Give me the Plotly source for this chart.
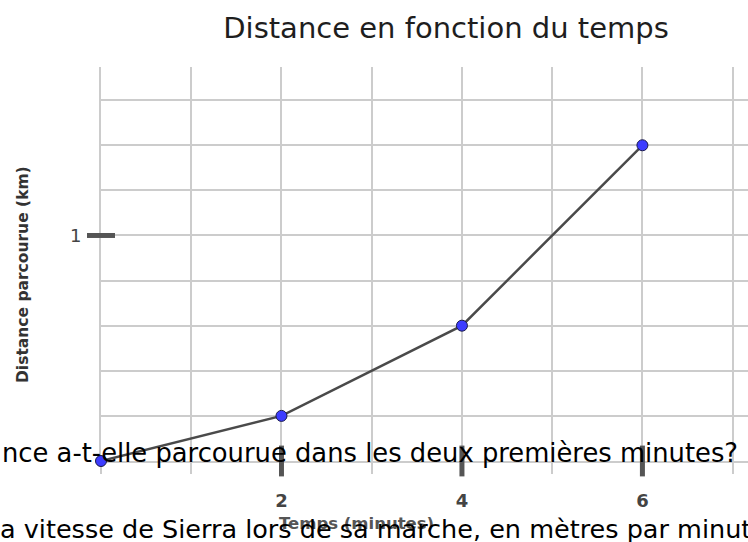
import plotly.graph_objects as go

# ---- data ----
temps_min = [0, 2, 4, 6]
distance_km = [0, 0.2, 0.6, 1.4]

x_tick_vals = [0, 1, 2, 3, 4, 5, 6, 7]
x_tick_text = ["", "", "2", "", "4", "", "6", ""]
x_major_ticks = [2, 4, 6]
y_tick_vals = [0, 0.2, 0.4, 0.6, 0.8, 1.0, 1.2, 1.4, 1.6]
y_tick_text = ["", "", "", "", "", "1", "", "", ""]
y_major_ticks = [1]

title_text = "Distance en fonction du temps"
x_title = "Temps (minutes)"
y_title = "Distance parcourue (km)"
doc_line1 = "nce a-t-elle parcourue dans les deux premières minutes?"
doc_line2 = "a vitesse de Sierra lors de sa marche, en mètres par minute"

W, H = 748, 542
ML, MR, MT, MB = 101, 0, 67, 81

fig = go.Figure()

# thick tick marks on axes
fig.add_trace(go.Scatter(
    x=x_major_ticks, y=[0] * len(x_major_ticks), mode="markers",
    marker=dict(symbol="line-ns", size=22, line=dict(color="#555555", width=5)),
    cliponaxis=False, hoverinfo="skip", showlegend=False))
fig.add_trace(go.Scatter(
    x=[0] * len(y_major_ticks), y=y_major_ticks, mode="markers",
    marker=dict(symbol="line-ew", size=20, line=dict(color="#555555", width=5)),
    cliponaxis=False, hoverinfo="skip", showlegend=False))

# data
fig.add_trace(go.Scatter(
    x=temps_min, y=distance_km, mode="lines+markers",
    line=dict(color="#4a4a4a", width=2.5),
    marker=dict(size=11, color="#3c3cff", line=dict(color="#1a1a4a", width=1)),
    cliponaxis=False, showlegend=False))

fig.update_xaxes(
    range=[0, 7.17], tickvals=x_tick_vals, ticktext=x_tick_text,
    showgrid=True, gridcolor="#cccccc", gridwidth=2,
    ticks="outside", ticklen=11, tickcolor="#cccccc", tickwidth=2,
    ticklabelstandoff=11, layer="below traces",
    showline=True, linecolor="#cccccc", linewidth=2,
    zeroline=False, automargin=False,
    tickfont=dict(family="DejaVu Sans", size=18, color="#444444", weight="bold"))
fig.update_yaxes(
    range=[0, 1.747], tickvals=y_tick_vals, ticktext=y_tick_text,
    showgrid=True, gridcolor="#cccccc", gridwidth=2,
    ticks="", ticklabelstandoff=14, layer="below traces",
    showline=True, linecolor="#cccccc", linewidth=2,
    zeroline=False, automargin=False,
    tickfont=dict(family="DejaVu Sans", size=18, color="#444444"))

def px_x(p):
    return (p - ML) / (W - ML - MR)

def px_y(p):
    return (H - MB - p) / (H - MT - MB)

annotations = [
    dict(text=y_title, x=px_x(23), y=px_y(275), xref="paper", yref="paper",
         textangle=-90, showarrow=False, xanchor="center", yanchor="middle",
         font=dict(family="DejaVu Sans", size=15.5, color="#333333", weight="bold")),
    dict(text=x_title, x=px_x(356), y=px_y(523), xref="paper", yref="paper",
         showarrow=False, xanchor="center", yanchor="middle",
         font=dict(family="DejaVu Sans", size=16.5, color="#555555", weight="bold")),
    dict(text=doc_line1, x=px_x(0), y=px_y(470), xref="paper", yref="paper",
         showarrow=False, xanchor="left", yanchor="bottom",
         font=dict(family="DejaVu Sans", size=25.8, color="#000000")),
    dict(text=doc_line2, x=px_x(-2), y=px_y(546), xref="paper", yref="paper",
         showarrow=False, xanchor="left", yanchor="bottom",
         font=dict(family="DejaVu Sans", size=25.5, color="#000000")),
]

fig.update_layout(
    width=W, height=H,
    margin=dict(l=ML, r=MR, t=MT, b=MB),
    paper_bgcolor="white", plot_bgcolor="white",
    title=dict(text=title_text, x=px_x(446), xref="paper", xanchor="center",
               y=1 - 28 / H, yref="container", yanchor="middle",
               font=dict(family="DejaVu Sans", size=29, color="#1e1e1e")),
    annotations=annotations,
    showlegend=False,
)

fig.write_html(
    "out.html",
    config={"displayModeBar": False},
    post_script="document.body.style.margin='0';document.body.style.overflow='hidden';",
)
